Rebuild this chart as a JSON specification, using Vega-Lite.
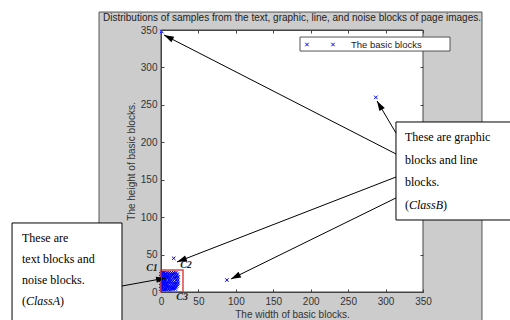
{
  "$schema": "https://vega.github.io/schema/vega-lite/v6.json",
  "width": 262,
  "height": 262,
  "autosize": {"type": "none"},
  "padding": {"left": 161, "top": 30, "right": 87, "bottom": 28},
  "background": "white",
  "config": {"view": {"stroke": null}},
  "title": {"text": "Distributions of samples from the text, graphic, line, and noise blocks of page images.", "font": "Liberation Sans", "fontSize": 10, "fontWeight": "normal", "color": "#222", "offset": -11, "anchor": "middle"},
  "datasets": {
    "figure": [{"x": -82.8, "x2": 428.8, "y": -45, "y2": 374}],
    "plotarea": [{"x": 0, "x2": 350, "y": 0, "y2": 350}],
    "blocks": [
      {"w": 1, "h": 26}, {"w": 3, "h": 26}, {"w": 5, "h": 26}, {"w": 8, "h": 26}, {"w": 11, "h": 26}, {"w": 14, "h": 26}, {"w": 17, "h": 26}, {"w": 20, "h": 26},
      {"w": 0, "h": 24}, {"w": 2, "h": 24}, {"w": 5, "h": 24}, {"w": 7, "h": 24}, {"w": 10, "h": 24}, {"w": 13, "h": 24}, {"w": 16, "h": 24}, {"w": 19, "h": 24}, {"w": 22, "h": 24},
      {"w": 1, "h": 22}, {"w": 4, "h": 22}, {"w": 6, "h": 22}, {"w": 9, "h": 22}, {"w": 12, "h": 22}, {"w": 15, "h": 22}, {"w": 18, "h": 22}, {"w": 21, "h": 22},
      {"w": 0, "h": 20}, {"w": 2, "h": 20}, {"w": 5, "h": 20}, {"w": 8, "h": 20}, {"w": 10, "h": 20}, {"w": 13, "h": 20}, {"w": 17, "h": 20}, {"w": 20, "h": 20}, {"w": 23, "h": 20},
      {"w": 1, "h": 18}, {"w": 3, "h": 18}, {"w": 6, "h": 18}, {"w": 9, "h": 18}, {"w": 12, "h": 18}, {"w": 16, "h": 18}, {"w": 19, "h": 18}, {"w": 22, "h": 18},
      {"w": 0, "h": 16}, {"w": 2, "h": 16}, {"w": 5, "h": 16}, {"w": 7, "h": 16}, {"w": 11, "h": 16}, {"w": 14, "h": 16}, {"w": 21, "h": 16},
      {"w": 1, "h": 14}, {"w": 4, "h": 14}, {"w": 6, "h": 14}, {"w": 9, "h": 14}, {"w": 12, "h": 14}, {"w": 15, "h": 14}, {"w": 18, "h": 14}, {"w": 22, "h": 14},
      {"w": 0, "h": 12}, {"w": 3, "h": 12}, {"w": 5, "h": 12}, {"w": 8, "h": 12}, {"w": 11, "h": 12}, {"w": 14, "h": 12}, {"w": 17, "h": 12}, {"w": 20, "h": 12}, {"w": 23, "h": 12},
      {"w": 1, "h": 10}, {"w": 4, "h": 10}, {"w": 7, "h": 10}, {"w": 10, "h": 10}, {"w": 13, "h": 10}, {"w": 16, "h": 10}, {"w": 19, "h": 10}, {"w": 22, "h": 10},
      {"w": 0, "h": 8}, {"w": 2, "h": 8}, {"w": 5, "h": 8}, {"w": 8, "h": 8}, {"w": 11, "h": 8}, {"w": 14, "h": 8}, {"w": 18, "h": 8}, {"w": 21, "h": 8},
      {"w": 1, "h": 6}, {"w": 3, "h": 6}, {"w": 6, "h": 6}, {"w": 9, "h": 6}, {"w": 12, "h": 6}, {"w": 15, "h": 6}, {"w": 17, "h": 6}, {"w": 20, "h": 6},
      {"w": 0, "h": 4}, {"w": 2, "h": 4}, {"w": 5, "h": 4}, {"w": 7, "h": 4}, {"w": 10, "h": 4}, {"w": 13, "h": 4}, {"w": 16, "h": 4}, {"w": 19, "h": 4},
      {"w": 1, "h": 2}, {"w": 4, "h": 2}, {"w": 6, "h": 2}, {"w": 9, "h": 2}, {"w": 12, "h": 2},
      {"w": 1, "h": 348}, {"w": 287, "h": 260}, {"w": 17, "h": 45}, {"w": 88, "h": 16}
    ],
    "classbox": [{"x": 0, "x2": 29.4, "y": 0, "y2": 29.4}],
    "clusters": [{"label": "C1", "x": -12, "y": 32.1}, {"label": "C2", "x": 33.4, "y": 36.1}, {"label": "C3", "x": 28.1, "y": -6.7}],
    "legendbox": [{"x": 185.7, "x2": 386.1, "y": 321.9, "y2": 340.6}],
    "legendmarks": [{"x": 195, "y": 330.6}, {"x": 229.8, "y": 330.6}],
    "legendtext": [{"x": 253.8, "y": 330.6, "text": "The basic blocks"}],
    "callouts": [{"x": -199, "x2": -52.1, "y": 92.2, "y2": -45}, {"x": 313.9, "x2": 480, "y": 227.1, "y2": 96.2}],
    "notes": [
      {"x": -185.7, "y": 72.1, "text": "These are"},
      {"x": -185.7, "y": 44.1, "text": "text blocks and"},
      {"x": -185.7, "y": 16.0, "text": "noise blocks."},
      {"x": -185.7, "y": -12.0, "text": "("},
      {"x": -134.9, "y": -12.0, "text": ")"},
      {"x": 326.0, "y": 207.1, "text": "These are graphic"},
      {"x": 326.0, "y": 176.3, "text": "blocks and line"},
      {"x": 326.0, "y": 146.9, "text": "blocks."},
      {"x": 326.0, "y": 116.2, "text": "("},
      {"x": 376.7, "y": 116.2, "text": ")"}
    ],
    "notesitalic": [
      {"x": -180.3, "y": -12.0, "text": "ClassA"},
      {"x": 331.3, "y": 116.2, "text": "ClassB"}
    ],
    "arrows": [
      {"tx": 313.9, "ty": 184.4, "hx": 4.0, "hy": 343.3},
      {"tx": 313.9, "ty": 212.4, "hx": 288.6, "hy": 255.2},
      {"tx": 313.9, "ty": 153.6, "hx": 21.4, "hy": 40.1},
      {"tx": 313.9, "ty": 125.6, "hx": 93.5, "hy": 17.4},
      {"tx": -52.1, "ty": 8.0, "hx": 6.7, "hy": 18.7}
    ]
  },
  "resolve": {"axis": {"x": "independent", "y": "independent"}},
  "layer": [
    {
      "data": {"name": "figure"},
      "mark": {"type": "rect", "fill": "#cccccc", "stroke": "#555555", "strokeWidth": 1},
      "encoding": {
        "x": {"field": "x", "type": "quantitative", "scale": {"domain": [0, 350], "nice": false, "zero": false}, "axis": null},
        "x2": {"field": "x2"},
        "y": {"field": "y", "type": "quantitative", "scale": {"domain": [0, 350], "nice": false, "zero": false}, "axis": null},
        "y2": {"field": "y2"}
      }
    },
    {
      "data": {"name": "plotarea"},
      "mark": {"type": "rect", "fill": "white", "stroke": "#444444", "strokeWidth": 1},
      "encoding": {
        "x": {"field": "x", "type": "quantitative", "scale": {"domain": [0, 350], "nice": false, "zero": false},
          "axis": {"orient": "bottom", "values": [0, 50, 100, 150, 200, 250, 300, 350], "title": "The width of basic blocks.", "titleFont": "Liberation Sans", "titleFontSize": 10, "titleFontWeight": "normal", "titleColor": "#333333", "titlePadding": 3, "labelFont": "Liberation Sans", "labelFontSize": 10, "labelColor": "#333333", "labelPadding": 7, "tickSize": -3, "tickColor": "#444444", "domainColor": "#444444", "grid": false, "zindex": 1, "labelFlush": false, "labelOverlap": false}},
        "x2": {"field": "x2"},
        "y": {"field": "y", "type": "quantitative", "scale": {"domain": [0, 350], "nice": false, "zero": false},
          "axis": {"orient": "left", "values": [0, 50, 100, 150, 200, 250, 300, 350], "title": "The height of basic blocks.", "titleFont": "Liberation Sans", "titleFontSize": 10, "titleFontWeight": "normal", "titleColor": "#333333", "titlePadding": 4, "labelFont": "Liberation Sans", "labelFontSize": 10, "labelColor": "#333333", "labelPadding": 7, "tickSize": -3, "tickColor": "#444444", "domainColor": "#444444", "grid": false, "zindex": 1, "labelFlush": false, "labelOverlap": false}},
        "y2": {"field": "y2"}
      }
    },
    {
      "data": {"name": "blocks"},
      "mark": {"type": "point", "shape": "M-1,-1L1,1M-1,1L1,-1", "filled": false, "stroke": "#0000ff", "strokeWidth": 1, "size": 12, "opacity": 1},
      "encoding": {
        "x": {"field": "w", "type": "quantitative", "scale": {"domain": [0, 350], "nice": false, "zero": false},
          "axis": {"orient": "top", "values": [0, 50, 100, 150, 200, 250, 300, 350], "labels": false, "title": null, "tickSize": -3, "tickColor": "#444444", "domainColor": "#444444", "grid": false, "zindex": 1}},
        "y": {"field": "h", "type": "quantitative", "scale": {"domain": [0, 350], "nice": false, "zero": false},
          "axis": {"orient": "right", "values": [0, 50, 250, 300, 350], "labels": false, "title": null, "tickSize": -3, "tickColor": "#444444", "domain": false, "grid": false, "zindex": 1}}
      }
    },
    {
      "data": {"name": "classbox"},
      "mark": {"type": "rect", "fill": null, "fillOpacity": 0, "stroke": "#e04848", "strokeWidth": 1.5},
      "encoding": {
        "x": {"field": "x", "type": "quantitative", "scale": {"domain": [0, 350], "nice": false, "zero": false}, "axis": null},
        "x2": {"field": "x2"},
        "y": {"field": "y", "type": "quantitative", "scale": {"domain": [0, 350], "nice": false, "zero": false}, "axis": null},
        "y2": {"field": "y2"}
      }
    },
    {
      "data": {"name": "clusters"},
      "mark": {"type": "text", "font": "Liberation Serif", "fontSize": 10, "fontWeight": "bold", "fontStyle": "italic", "color": "#222222", "align": "center", "baseline": "middle"},
      "encoding": {
        "x": {"field": "x", "type": "quantitative", "scale": {"domain": [0, 350], "nice": false, "zero": false}, "axis": null},
        "y": {"field": "y", "type": "quantitative", "scale": {"domain": [0, 350], "nice": false, "zero": false}, "axis": null},
        "text": {"field": "label"}
      }
    },
    {
      "data": {"name": "legendbox"},
      "mark": {"type": "rect", "fill": "white", "stroke": "#555555", "strokeWidth": 1},
      "encoding": {
        "x": {"field": "x", "type": "quantitative", "scale": {"domain": [0, 350], "nice": false, "zero": false}, "axis": null},
        "x2": {"field": "x2"},
        "y": {"field": "y", "type": "quantitative", "scale": {"domain": [0, 350], "nice": false, "zero": false}, "axis": null},
        "y2": {"field": "y2"}
      }
    },
    {
      "data": {"name": "legendmarks"},
      "mark": {"type": "point", "shape": "M-1,-1L1,1M-1,1L1,-1", "filled": false, "stroke": "#0000ff", "strokeWidth": 1, "size": 12, "opacity": 1},
      "encoding": {
        "x": {"field": "x", "type": "quantitative", "scale": {"domain": [0, 350], "nice": false, "zero": false}, "axis": null},
        "y": {"field": "y", "type": "quantitative", "scale": {"domain": [0, 350], "nice": false, "zero": false}, "axis": null}
      }
    },
    {
      "data": {"name": "legendtext"},
      "mark": {"type": "text", "font": "Liberation Sans", "fontSize": 9.5, "color": "#222222", "align": "left", "baseline": "middle"},
      "encoding": {
        "x": {"field": "x", "type": "quantitative", "scale": {"domain": [0, 350], "nice": false, "zero": false}, "axis": null},
        "y": {"field": "y", "type": "quantitative", "scale": {"domain": [0, 350], "nice": false, "zero": false}, "axis": null},
        "text": {"field": "text"}
      }
    },
    {
      "data": {"name": "callouts"},
      "mark": {"type": "rect", "fill": "white", "stroke": "black", "strokeWidth": 1},
      "encoding": {
        "x": {"field": "x", "type": "quantitative", "scale": {"domain": [0, 350], "nice": false, "zero": false}, "axis": null},
        "x2": {"field": "x2"},
        "y": {"field": "y", "type": "quantitative", "scale": {"domain": [0, 350], "nice": false, "zero": false}, "axis": null},
        "y2": {"field": "y2"}
      }
    },
    {
      "data": {"name": "notes"},
      "mark": {"type": "text", "font": "Liberation Serif", "fontSize": 12, "color": "black", "align": "left", "baseline": "middle"},
      "encoding": {
        "x": {"field": "x", "type": "quantitative", "scale": {"domain": [0, 350], "nice": false, "zero": false}, "axis": null},
        "y": {"field": "y", "type": "quantitative", "scale": {"domain": [0, 350], "nice": false, "zero": false}, "axis": null},
        "text": {"field": "text"}
      }
    },
    {
      "data": {"name": "notesitalic"},
      "mark": {"type": "text", "font": "Liberation Serif", "fontSize": 12, "fontStyle": "italic", "color": "black", "align": "left", "baseline": "middle"},
      "encoding": {
        "x": {"field": "x", "type": "quantitative", "scale": {"domain": [0, 350], "nice": false, "zero": false}, "axis": null},
        "y": {"field": "y", "type": "quantitative", "scale": {"domain": [0, 350], "nice": false, "zero": false}, "axis": null},
        "text": {"field": "text"}
      }
    },
    {
      "data": {"name": "arrows"},
      "mark": {"type": "rule", "color": "black", "strokeWidth": 1},
      "encoding": {
        "x": {"field": "tx", "type": "quantitative", "scale": {"domain": [0, 350], "nice": false, "zero": false}, "axis": null},
        "x2": {"field": "hx"},
        "y": {"field": "ty", "type": "quantitative", "scale": {"domain": [0, 350], "nice": false, "zero": false}, "axis": null},
        "y2": {"field": "hy"}
      }
    },
    {
      "data": {"name": "arrows"},
      "transform": [{"calculate": "atan2(-(datum.hy - datum.ty), datum.hx - datum.tx) * 180 / PI + 90", "as": "ang"}],
      "mark": {"type": "point", "shape": "M0,0L0.7,2.2L-0.7,2.2Z", "filled": true, "color": "black", "size": 81, "opacity": 1, "strokeWidth": 0},
      "encoding": {
        "x": {"field": "hx", "type": "quantitative", "scale": {"domain": [0, 350], "nice": false, "zero": false}, "axis": null},
        "y": {"field": "hy", "type": "quantitative", "scale": {"domain": [0, 350], "nice": false, "zero": false}, "axis": null},
        "angle": {"field": "ang", "type": "quantitative", "scale": null}
      }
    }
  ]
}
